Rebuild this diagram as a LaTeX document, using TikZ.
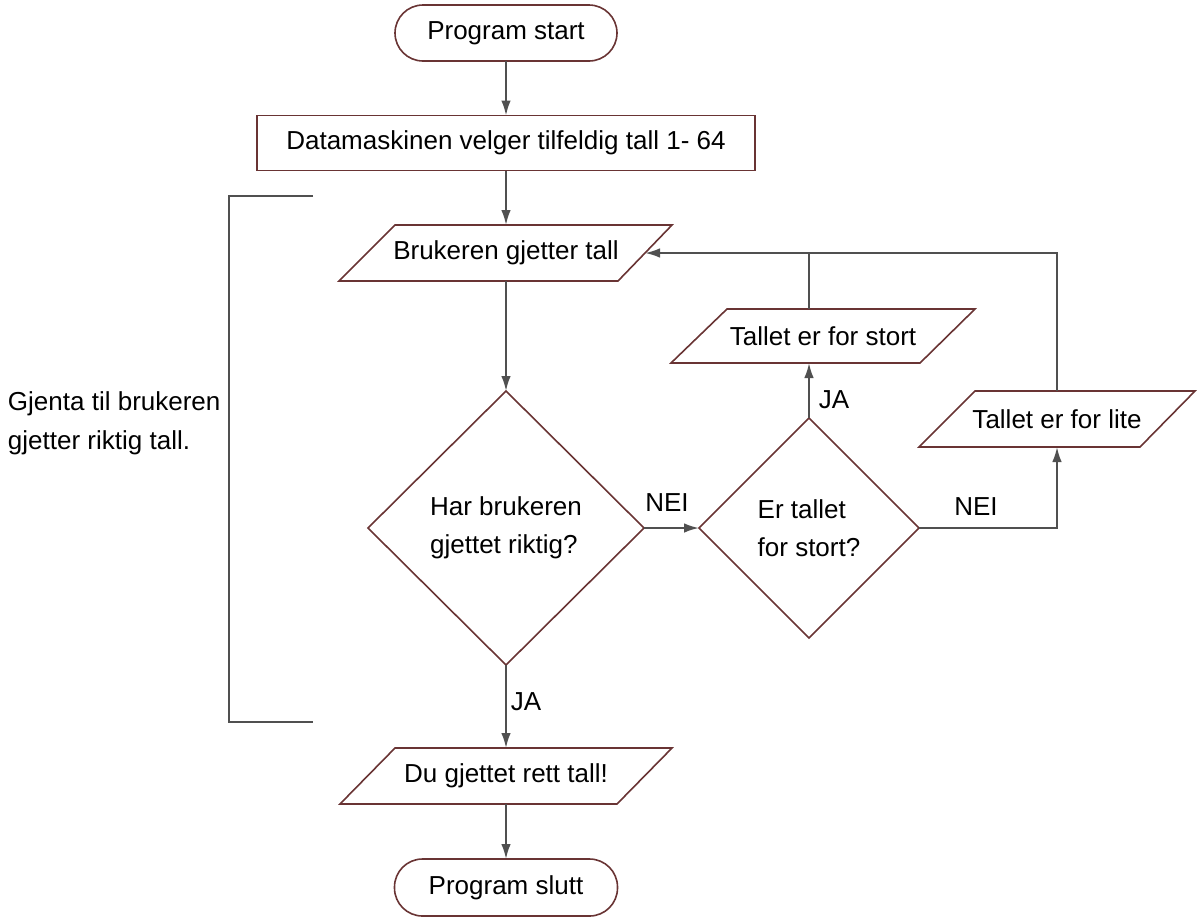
\documentclass[tikz,border=0pt]{standalone}
\usepackage{fontspec}
\setmainfont{Liberation Sans}
\usetikzlibrary{shapes.geometric,arrows.meta,calc}
\definecolor{shp}{RGB}{105,52,52}
\definecolor{con}{RGB}{80,80,80}
\tikzset{
  txt/.style={font=\fontsize{13}{19}\selectfont, inner sep=0pt, outer sep=0pt, text=black},
  term/.style={txt, draw=shp, line width=0.8pt, rounded corners=14pt, minimum width=111pt, minimum height=28pt},
  procbox/.style={txt, draw=shp, line width=0.8pt, minimum width=249pt, minimum height=27.5pt},
  iobox/.style={txt, minimum height=28pt},
  iooutline/.style={draw=shp, line width=0.8pt, line join=miter},
  decide/.style={txt, draw=shp, line width=0.8pt, shape=diamond, align=left},
  conn/.style={draw=con, line width=1pt},
  arr/.style={conn, -{Latex[length=7.5pt,width=4.8pt]}},
  lbl/.style={txt}
}
\begin{document}
\begin{tikzpicture}[x=0.5pt,y=-0.5pt]
\useasboundingbox (0,0) rectangle (1200,923);

% terminals and process
\node[term] (start) at (506,33) {Program start};
\node[procbox] (dm) at (506,143) {Datamaskinen velger tilfeldig tall 1- 64};

% input/output parallelograms
\draw[iooutline] (395,225) -- (672,225) -- (618,281) -- (339,281) -- cycle;
\node[iobox] (bruk) at (506,253) {Brukeren gjetter tall};

\draw[iooutline] (727,309) -- (975,309) -- (920,363) -- (671,363) -- cycle;
\node[iobox, minimum height=27pt] (stort) at (823,336) {Tallet er for stort};

\draw[iooutline] (975,391) -- (1195,391) -- (1140,447) -- (919,447) -- cycle;
\node[iobox] (lite) at (1057,419) {Tallet er for lite};

\draw[iooutline] (395,748) -- (672,748) -- (617,804) -- (340,804) -- cycle;
\node[iobox] (du) at (506,776) {Du gjettet rett tall!};

\node[term, minimum width=111.5pt, minimum height=28.5pt] (end) at (506,887.5) {Program slutt};

% decisions
\node[decide, minimum width=138pt, minimum height=137pt] (d1) at (506,528) {Har brukeren\\gjettet riktig?};
\node[decide, minimum width=110pt, minimum height=110pt] (d2) at (809,528) {Er tallet\\for stort?};

% helper coordinates
\coordinate (bin) at (645,253);
\coordinate (j1) at (809,253);

% connectors
\draw[arr] (start.south) -- (dm.north);
\draw[arr] (dm.south) -- (bruk.north);
\draw[arr] (bruk.south) -- (d1.north);
\draw[arr] (d1.east) -- (d2.west);
\draw[arr] (d2.north) -- (d2.north |- stort.south);
\draw[conn] (d2.north |- stort.north) -- (j1);
\draw[arr] (d2.east) -| (lite.south);
\draw[arr] (lite.north) |- (bin);
\draw[arr] (d1.south) -- (du.north);
\draw[arr] (du.south) -- (end.north);

% labels
\node[lbl] (nei1) at (667,503) {NEI};
\node[lbl] (nei2) at (976,507) {NEI};
\node[lbl] (ja1) at (834,400) {JA};
\node[lbl] (ja2) at (526,702) {JA};

% bracket and its note
\coordinate (bt) at (313,196);
\coordinate (bb) at (313,722);
\draw[conn] (bt) -- (229,196) -- (229,722) -- (bb);
\node[txt, anchor=west, align=left, font=\fontsize{13}{19.5}\selectfont] (gjenta) at (8,423) {Gjenta til brukeren\\gjetter riktig tall.};
\end{tikzpicture}
\end{document}
